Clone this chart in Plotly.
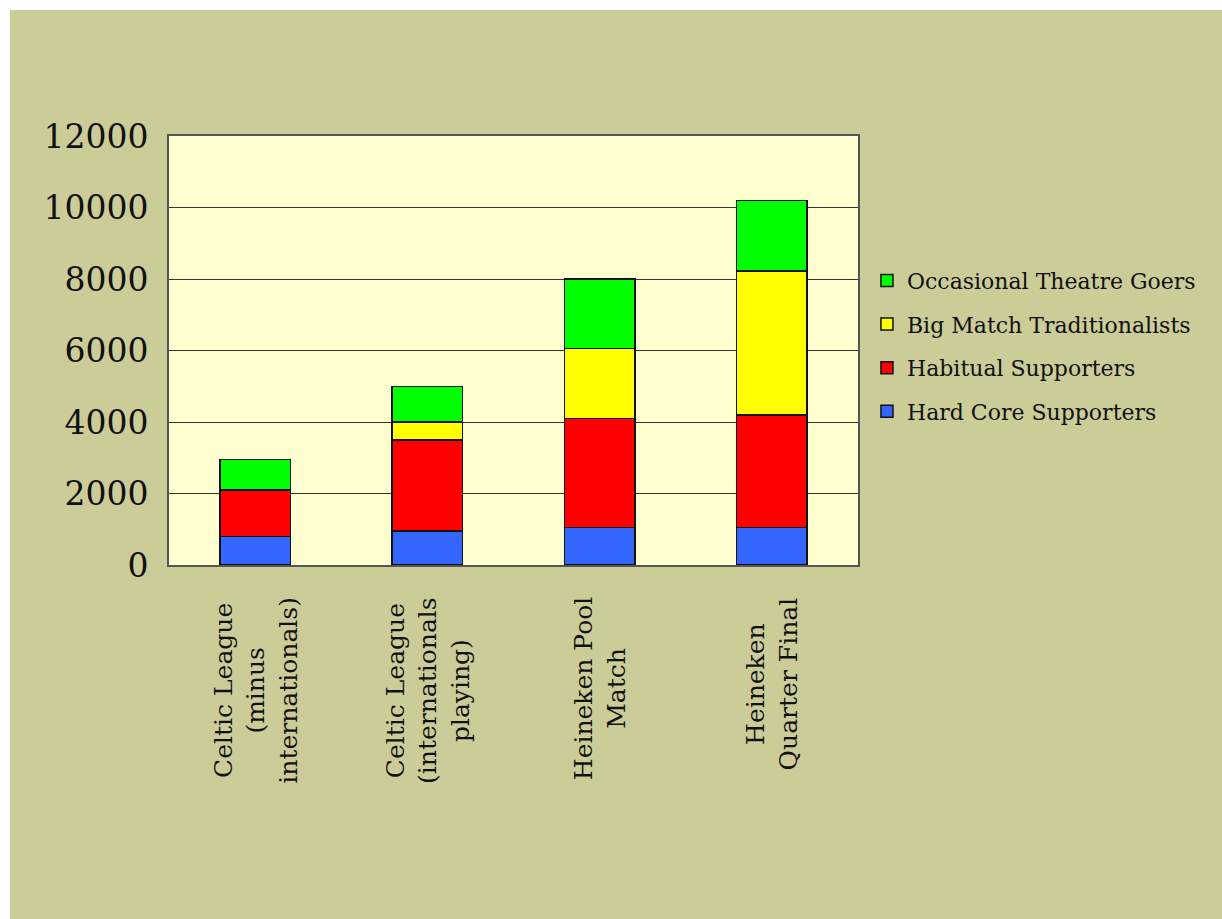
import plotly.graph_objects as go

categories = [
    "Celtic League<br>(minus<br>internationals)",
    "Celtic League<br>(internationals<br>playing)",
    "Heineken Pool<br>Match",
    "Heineken<br>Quarter Final",
]
cat_keys = ["c1", "c2", "c3", "c4"]

hard_core = [800, 950, 1050, 1050]
habitual = [1300, 2550, 3050, 3150]
big_match = [0, 500, 1950, 4030]
occasional = [850, 1000, 1950, 1970]

series_names = [
    "Hard Core Supporters",
    "Habitual Supporters",
    "Big Match Traditionalists",
    "Occasional Theatre Goers",
]
series_values = [hard_core, habitual, big_match, occasional]
series_colors = ["#3366FF", "#FF0000", "#FFFF00", "#00FF00"]
legend_ranks = [4, 3, 2, 1]

y_ticks = [0, 2000, 4000, 6000, 8000, 10000, 12000]

W, H = 1222, 919
ML, MR, MT, MB = 169, 364, 136, 354
FONT = "DejaVu Serif"

fig = go.Figure()
for name, vals, col, rk in zip(series_names, series_values, series_colors, legend_ranks):
    fig.add_trace(go.Bar(
        x=cat_keys, y=vals, name=name, legendgroup=name, legendrank=rk,
        marker=dict(color=col, line=dict(color="#111111", width=1.5)),
        width=0.41,
    ))

annotations = []
for key, lab in zip(cat_keys, categories):
    annotations.append(dict(
        x=key, xref="x", y=0, yref="paper", yanchor="top", yshift=-30,
        text=lab, textangle=-90, align="center", showarrow=False,
        font=dict(family=FONT, size=25, color="#111111"),
    ))

pw = W - ML - MR
ph = H - MT - MB
shapes = [
    dict(type="rect", xref="paper", yref="paper",
         x0=-ML / pw - 0.05, x1=(10 - ML) / pw, y0=-MB / ph - 0.05, y1=1 + MT / ph + 0.05,
         fillcolor="white", line=dict(width=0), layer="above"),
    dict(type="rect", xref="paper", yref="paper",
         x0=-ML / pw - 0.05, x1=1 + MR / pw + 0.05, y0=1 + (MT - 10) / ph, y1=1 + MT / ph + 0.05,
         fillcolor="white", line=dict(width=0), layer="above"),
]

fig.update_layout(
    width=W, height=H,
    margin=dict(l=ML, r=MR, t=MT, b=MB, pad=0),
    barmode="stack",
    paper_bgcolor="#CCCC99",
    plot_bgcolor="#FFFFD0",
    font=dict(family=FONT, color="#111111"),
    showlegend=True,
    legend=dict(
        x=1.013, xanchor="left", y=0.51, yanchor="middle",
        traceorder="grouped", tracegroupgap=12,
        font=dict(family=FONT, size=22, color="#111111"),
        bgcolor="rgba(0,0,0,0)", itemwidth=30,
    ),
    annotations=annotations,
    shapes=shapes,
    xaxis=dict(
        showticklabels=False, ticks="",
        showline=True, linecolor="#555555", linewidth=2, mirror=True,
        showgrid=False,
    ),
    yaxis=dict(
        range=[0, 12000], tickvals=y_ticks,
        ticktext=[str(v) for v in y_ticks],
        tickfont=dict(family=FONT, size=33, color="#111111"),
        ticks="", ticklabelstandoff=12,
        showgrid=True, gridcolor="#333333", gridwidth=1,
        showline=True, linecolor="#555555", linewidth=2, mirror=True,
        zeroline=False,
    ),
)

fig.write_html("out.html")
